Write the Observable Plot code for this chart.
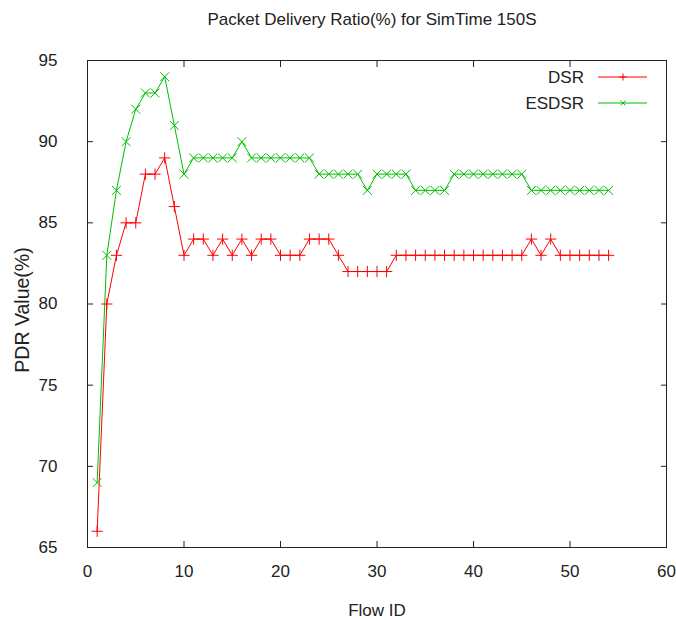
<!DOCTYPE html>
<html>
<head>
<meta charset="utf-8">
<script src="https://cdn.jsdelivr.net/npm/d3@7"></script>
<script src="https://cdn.jsdelivr.net/npm/@observablehq/plot@0.6"></script>
<style>
  body { margin: 0; background: #fff; }
  #title {
    font: 17px "Liberation Sans", Arial, sans-serif;
    color: #222;
    height: 40px;
    line-height: 40px;
    padding-left: 68px;
    text-align: center;
  }
  svg text { font-family: "Liberation Sans", Arial, sans-serif; }
</style>
</head>
<body>
<div id="title">Packet Delivery Ratio(%) for SimTime 150S</div>
<div id="chart"></div>
<script>
// Flow IDs 1..54 and PDR (%) per routing protocol
const flowIds = d3.range(1, 55);
const dsr = [66, 80, 83, 85, 85, 88, 88, 89, 86, 83,
             84, 84, 83, 84, 83, 84, 83, 84, 84, 83,
             83, 83, 84, 84, 84, 83, 82, 82, 82, 82,
             82, 83, 83, 83, 83, 83, 83, 83, 83, 83,
             83, 83, 83, 83, 83, 84, 83, 84, 83, 83,
             83, 83, 83, 83];
const esdsr = [69, 83, 87, 90, 92, 93, 93, 94, 91, 88,
               89, 89, 89, 89, 89, 90, 89, 89, 89, 89,
               89, 89, 89, 88, 88, 88, 88, 88, 87, 88,
               88, 88, 88, 87, 87, 87, 87, 88, 88, 88,
               88, 88, 88, 88, 88, 87, 87, 87, 87, 87,
               87, 87, 87, 87];
const seriesNames = ["DSR", "ESDSR"];
const seriesColors = ["#ff0000", "#00c000"];
const seriesSymbols = ["plus", "times"];
const xTicks = [0, 10, 20, 30, 40, 50, 60];
const yTicks = [65, 70, 75, 80, 85, 90, 95];

const rows = [
  ...flowIds.map((id, i) => ({series: "DSR", flow: id, pdr: dsr[i]})),
  ...flowIds.map((id, i) => ({series: "ESDSR", flow: id, pdr: esdsr[i]}))
];

const font = "17px 'Liberation Sans', Arial, sans-serif";
const d3Symbols = {plus: d3.symbolPlus, times: d3.symbolTimes};

// Key in the top-right corner of the frame: label, line sample, marker
function keyMark(index, scales, values, dimensions) {
  const right = dimensions.width - dimensions.marginRight;
  const top = dimensions.marginTop;
  const g = d3.create("svg:g");
  seriesNames.forEach((name, i) => {
    const y = top + 17 + i * 26;
    g.append("text")
      .attr("x", right - 82).attr("y", y)
      .attr("dy", "0.35em")
      .attr("text-anchor", "end")
      .attr("fill", "#222")
      .style("font", font)
      .text(name);
    g.append("line")
      .attr("x1", right - 68).attr("x2", right - 19)
      .attr("y1", y).attr("y2", y)
      .attr("stroke", seriesColors[i]);
    g.append("path")
      .attr("transform", `translate(${right - 43},${y})`)
      .attr("d", d3.symbol(d3Symbols[seriesSymbols[i]], 18)())
      .attr("fill", "none")
      .attr("stroke", seriesColors[i]);
  });
  return g.node();
}

const chart = Plot.plot({
  width: 676,
  height: 580,
  marginTop: 20,
  marginBottom: 73,
  marginLeft: 87,
  marginRight: 10,
  style: {font, color: "#222", background: "#fff"},
  x: {domain: [0, 60]},
  y: {domain: [65, 95]},
  color: {domain: seriesNames, range: seriesColors},
  symbol: {domain: seriesNames, range: seriesSymbols},
  marks: [
    // tick labels
    Plot.axisX({anchor: "bottom", ticks: xTicks, tickSize: 0, tickPadding: 17, label: null}),
    Plot.axisY({anchor: "left", ticks: yTicks, tickSize: 0, tickPadding: 30, label: null}),
    // inward tick marks on all four sides
    Plot.axisX({anchor: "bottom", ticks: xTicks, tickSize: 6, dy: -6, tickFormat: () => "", label: null, stroke: "#222"}),
    Plot.axisX({anchor: "top", ticks: xTicks, tickSize: 6, dy: 6, tickFormat: () => "", label: null, stroke: "#222"}),
    Plot.axisY({anchor: "left", ticks: yTicks, tickSize: 6, dx: 6, tickFormat: () => "", label: null, stroke: "#222"}),
    Plot.axisY({anchor: "right", ticks: yTicks, tickSize: 6, dx: -6, tickFormat: () => "", label: null, stroke: "#222"}),
    Plot.frame({stroke: "#222"}),
    Plot.line(rows, {x: "flow", y: "pdr", z: "series", stroke: "series", strokeWidth: 1}),
    Plot.dot(rows, {filter: (d) => d.series === "DSR", x: "flow", y: "pdr", stroke: "series", symbol: "series", r: 3.7, strokeWidth: 1}),
    Plot.dot(rows, {filter: (d) => d.series === "ESDSR", x: "flow", y: "pdr", stroke: "series", symbol: "series", r: 4.1, strokeWidth: 1}),
    // axis titles
    Plot.text(["Flow ID"], {frameAnchor: "bottom", dy: 63, lineAnchor: "middle", fill: "#222"}),
    Plot.text(["PDR Value(%)"], {frameAnchor: "left", dx: -65, dy: 6, rotate: -90, textAnchor: "middle", lineAnchor: "middle", fontSize: 19.5, fill: "#222"}),
    keyMark
  ]
});

document.getElementById("chart").appendChild(chart);
</script>
</body>
</html>
